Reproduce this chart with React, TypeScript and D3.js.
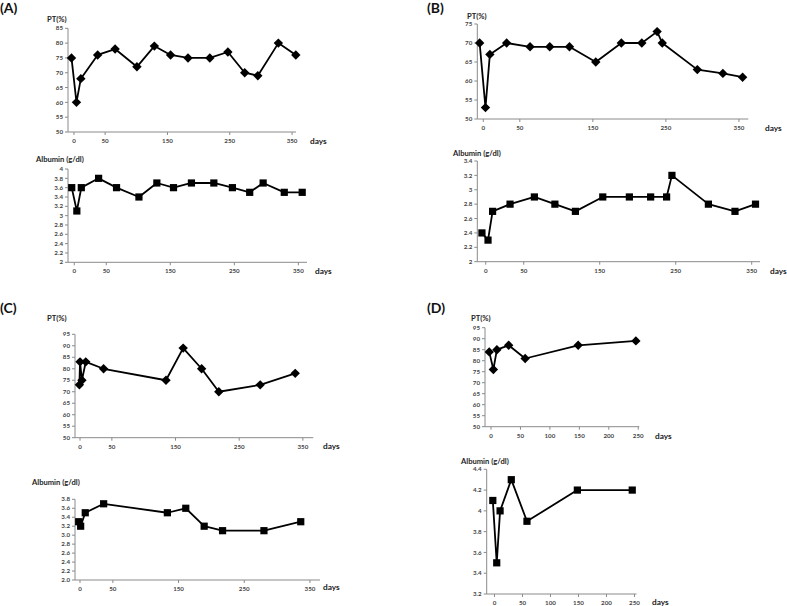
import * as d3 from "d3";

// ---- data ----
const A_DAYS = [-4, 4, 11, 38, 66, 101, 129, 155, 183, 218, 247, 274, 295, 328, 356];
const A_PT = [75, 60, 68, 76, 78, 72, 79, 76, 75, 75, 77, 70, 69, 80, 76];
const A_ALB = [3.6, 3.1, 3.6, 3.8, 3.6, 3.4, 3.7, 3.6, 3.7, 3.7, 3.6, 3.5, 3.7, 3.5, 3.5];

const B_DAYS = [-5, 3, 9, 32, 64, 91, 118, 154, 189, 217, 238, 245, 293, 328, 355];
const B_PT = [70, 53, 67, 70, 69, 69, 69, 65, 70, 70, 73, 70, 63, 62, 61];
const B_ALB = [2.4, 2.3, 2.7, 2.8, 2.9, 2.8, 2.7, 2.9, 2.9, 2.9, 2.9, 3.2, 2.8, 2.7, 2.8];

const C_PT_DAYS = [-1, 0, 3, 9, 37, 135, 162, 191, 218, 283, 338];
const C_PT = [73, 83, 75, 83, 80, 75, 89, 80, 70, 73, 78];
const C_ALB_DAYS = [-2, 1, 8, 36, 133, 161, 189, 217, 280, 336];
const C_ALB = [3.3, 3.2, 3.5, 3.7, 3.5, 3.6, 3.2, 3.1, 3.1, 3.3];

const D_DAYS = [-3, 4, 10, 30, 58, 148, 246];
const D_PT = [84, 76, 85, 87, 81, 87, 89];
const D_ALB = [4.1, 3.5, 4.0, 4.3, 3.9, 4.2, 4.2];

// tick labels
const DAY_TICKS = [0, 50, 150, 250, 350];
const D_DAY_TICKS = [0, 50, 100, 150, 200, 250];
const PT_TICKS_A = [50, 55, 60, 65, 70, 75, 80, 85];
const PT_TICKS_B = [50, 55, 60, 65, 70, 75];
const PT_TICKS_CD = [50, 55, 60, 65, 70, 75, 80, 85, 90, 95];
const ALB_TICKS_A = [2, 2.2, 2.4, 2.6, 2.8, 3, 3.2, 3.4, 3.6, 3.8, 4];
const ALB_TICKS_B = [2, 2.2, 2.4, 2.6, 2.8, 3, 3.2, 3.4];
const ALB_TICKS_C = [2.0, 2.2, 2.4, 2.6, 2.8, 3.0, 3.2, 3.4, 3.6, 3.8];
const ALB_TICKS_D = [3.2, 3.4, 3.6, 3.8, 4, 4.2, 4.4];

const FONT = "Lato, 'Open Sans', sans-serif";

const general = (v: number) => String(+v.toFixed(2));
const oneDec = d3.format(".1f");

type Layout = {
  x0: number; x1: number; top: number; bottom: number; xd: [number, number];
  tx: number; ty: number; dx: number; dy: number;
};

function Chart({ L, days, values, dayTicks, valTicks, fmt, marker, title }: any) {
  const l = L as Layout;
  const x = d3.scaleLinear().domain(l.xd).range([l.x0, l.x1]);
  const y = d3
    .scaleLinear()
    .domain([valTicks[0], valTicks[valTicks.length - 1]])
    .range([l.bottom, l.top]);
  const pts: [number, number][] = days.map((d: number, i: number) => [d, values[i]]);
  const line = d3
    .line<[number, number]>()
    .x((d) => x(d[0]))
    .y((d) => y(d[1]));
  const sq = d3.symbol(d3.symbolSquare, 52)();
  const dia = "M0,-4.7L4.7,0L0,4.7L-4.7,0Z";

  return (
    <g>
      <text x={l.tx} y={l.ty} fontFamily={FONT} fontWeight="bold" fontSize={7.6} fill="#222">
        {title}
      </text>
      {/* y axis */}
      <line x1={l.x0} x2={l.x0} y1={l.top} y2={l.bottom} stroke="#8a8a8a" strokeWidth={1} />
      {valTicks.map((t: number) => (
        <g key={t}>
          <line x1={l.x0 - 3} x2={l.x0} y1={y(t)} y2={y(t)} stroke="#8a8a8a" />
          <text
            x={l.x0 - 5}
            y={y(t)}
            dy="0.35em"
            textAnchor="end"
            fontFamily={FONT}
            fontSize={6.2}
            fontWeight="bold"
            fill="#444"
          >
            {fmt(t)}
          </text>
        </g>
      ))}
      {/* x axis */}
      <line x1={l.x0} x2={l.x1} y1={l.bottom} y2={l.bottom} stroke="#8a8a8a" strokeWidth={1} />
      {dayTicks.map((t: number) => (
        <g key={t}>
          <line x1={x(t)} x2={x(t)} y1={l.bottom} y2={l.bottom + 3} stroke="#8a8a8a" />
          <text
            x={x(t)}
            y={l.bottom + 9}
            dy="0.35em"
            textAnchor="middle"
            fontFamily={FONT}
            fontSize={6.2}
            fontWeight="bold"
            fill="#444"
          >
            {t}
          </text>
        </g>
      ))}
      <text x={l.dx} y={l.dy} dy="0.35em" fontFamily={FONT} fontWeight="bold" fontSize={8.3} fill="#222">
        days
      </text>
      <path d={line(pts) || ""} fill="none" stroke="#000" strokeWidth={1.8} strokeLinejoin="round" />
      {pts.map((p, i) => (
        <path
          key={i}
          d={marker === "square" ? sq || "" : dia}
          transform={`translate(${x(p[0])},${y(p[1])})`}
          fill="#000"
        />
      ))}
    </g>
  );
}

const PANEL_LABELS = [
  { t: "(A)", x: 0, y: 13 },
  { t: "(B)", x: 427, y: 13 },
  { t: "(C)", x: 0, y: 313 },
  { t: "(D)", x: 427, y: 313 },
];

export default function App() {
  return (
    <svg
      width={787}
      height={606}
      style={{ position: "absolute", left: 0, top: 0, background: "#fff" }}
    >
      {PANEL_LABELS.map((p) => (
        <text key={p.t} x={p.x} y={p.y} fontFamily={FONT} fontWeight="bold" fontSize={14} fill="#111">
          {p.t}
        </text>
      ))}

      <Chart
        L={{ x0: 68, x1: 296, top: 28.3, bottom: 132, xd: [-9.6, 356.3], tx: 47, ty: 22, dx: 310, dy: 141 }}
        days={A_DAYS} values={A_PT} dayTicks={DAY_TICKS} valTicks={PT_TICKS_A}
        fmt={general} marker="diamond" title="PT(%)"
      />
      <Chart
        L={{ x0: 68, x1: 307, top: 169, bottom: 262.3, xd: [-9.8, 363.5], tx: 36, ty: 162, dx: 315, dy: 271 }}
        days={A_DAYS} values={A_ALB} dayTicks={DAY_TICKS} valTicks={ALB_TICKS_A}
        fmt={general} marker="square" title="Albumin (g/dl)"
      />

      <Chart
        L={{ x0: 477.3, x1: 748.3, top: 24, bottom: 119, xd: [-8.2, 362.8], tx: 467, ty: 18.5, dx: 765, dy: 127.7 }}
        days={B_DAYS} values={B_PT} dayTicks={DAY_TICKS} valTicks={PT_TICKS_B}
        fmt={general} marker="diamond" title="PT(%)"
      />
      <Chart
        L={{ x0: 477.3, x1: 760, top: 161, bottom: 261.7, xd: [-11.1, 360.9], tx: 453, ty: 155.5, dx: 770, dy: 271 }}
        days={B_DAYS} values={B_ALB} dayTicks={DAY_TICKS} valTicks={ALB_TICKS_B}
        fmt={general} marker="square" title="Albumin (g/dl)"
      />

      <Chart
        L={{ x0: 75, x1: 313.3, top: 334.3, bottom: 437.7, xd: [-7.9, 366.4], tx: 47, ty: 321, dx: 323, dy: 445.7 }}
        days={C_PT_DAYS} values={C_PT} dayTicks={DAY_TICKS} valTicks={PT_TICKS_CD}
        fmt={general} marker="diamond" title="PT(%)"
      />
      <Chart
        L={{ x0: 75, x1: 320, top: 499.3, bottom: 580, xd: [-7.6, 365.3], tx: 32, ty: 484.5, dx: 323, dy: 587 }}
        days={C_ALB_DAYS} values={C_ALB} dayTicks={DAY_TICKS} valTicks={ALB_TICKS_C}
        fmt={oneDec} marker="square" title="Albumin (g/dl)"
      />

      <Chart
        L={{ x0: 485, x1: 639.3, top: 327.7, bottom: 426.7, xd: [-10.2, 251.8], tx: 471, ty: 321, dx: 655, dy: 436 }}
        days={D_DAYS} values={D_PT} dayTicks={D_DAY_TICKS} valTicks={PT_TICKS_CD}
        fmt={general} marker="diamond" title="PT(%)"
      />
      <Chart
        L={{ x0: 486.7, x1: 636.5, top: 469.3, bottom: 594, xd: [-13.9, 253.6], tx: 461, ty: 463.5, dx: 652, dy: 602 }}
        days={D_DAYS} values={D_ALB} dayTicks={D_DAY_TICKS} valTicks={ALB_TICKS_D}
        fmt={general} marker="square" title="Albumin (g/dl)"
      />
    </svg>
  );
}
